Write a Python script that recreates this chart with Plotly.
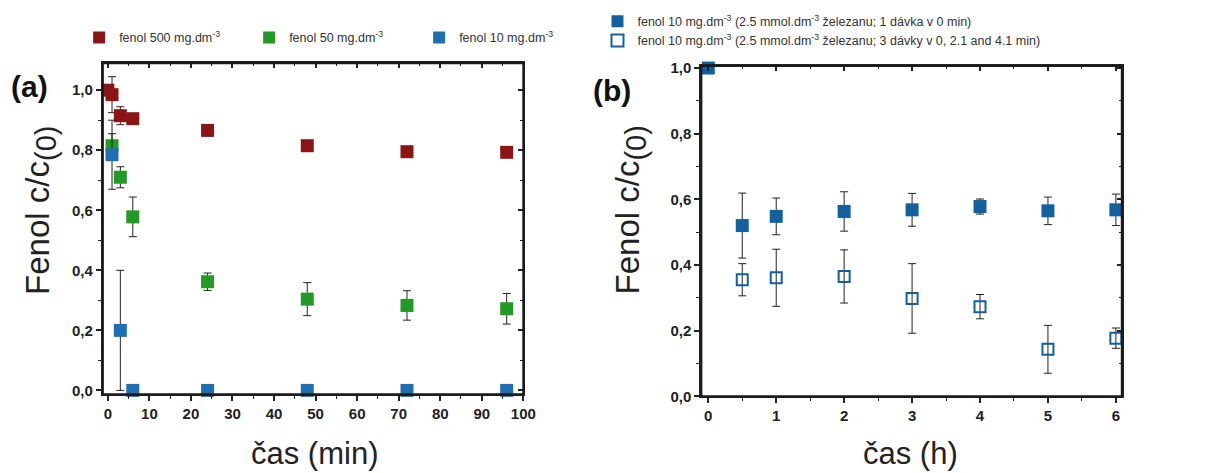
import plotly.graph_objects as go

# ---------------- data: panel (a) ----------------
t_500 = [0, 1, 3, 6, 24, 48, 72, 96]
c_500 = [1.0, 0.985, 0.915, 0.905, 0.866, 0.815, 0.795, 0.793]
e_500 = [0.0, 0.06, 0.03, 0.015, 0.01, 0.01, 0.005, 0.005]

t_50 = [1, 3, 6, 24, 48, 72, 96]
c_50 = [0.815, 0.71, 0.578, 0.362, 0.304, 0.283, 0.272]
e_50 = [0.04, 0.035, 0.066, 0.029, 0.055, 0.049, 0.051]

t_10 = [1, 3, 6, 24, 48, 72, 96]
c_10 = [0.785, 0.2, 0.0, 0.0, 0.0, 0.0, 0.0]
e_10 = [0.115, 0.2, 0.0, 0.0, 0.0, 0.0, 0.0]

# ---------------- data: panel (b) ----------------
t_b1 = [0, 0.5, 1, 2, 3, 4, 5, 6]
c_b1 = [1.0, 0.52, 0.548, 0.563, 0.568, 0.578, 0.565, 0.568]
e_b1 = [0.0, 0.099, 0.056, 0.06, 0.05, 0.023, 0.042, 0.048]

t_b3 = [0.5, 1, 2, 3, 4, 5, 6]
c_b3 = [0.355, 0.361, 0.365, 0.298, 0.273, 0.143, 0.177]
e_b3 = [0.049, 0.087, 0.081, 0.106, 0.037, 0.073, 0.031]

lbl_500 = "fenol 500 mg.dm<sup>-3</sup>"
lbl_50 = "fenol 50 mg.dm<sup>-3</sup>"
lbl_10 = "fenol 10 mg.dm<sup>-3</sup>"
lbl_b1 = "fenol 10 mg.dm<sup>-3</sup> (2.5 mmol.dm<sup>-3</sup> železanu; 1 dávka v 0 min)"
lbl_b3 = "fenol 10 mg.dm<sup>-3</sup> (2.5 mmol.dm<sup>-3</sup> železanu; 3 dávky v 0, 2.1 and 4.1 min)"

RED = "#8b1515"
GREEN = "#229a25"
BLUE = "#1f6fb4"
BLUE_B = "#13609f"
ERR = dict(type="data", thickness=1, width=4, color="#222222")
AX = "#222222"

W, H = 1207, 473
FONT = "Liberation Sans, Arial, sans-serif"

def px_x(p):
    return p / W

def px_y(p):
    return 1 - p / H

fig = go.Figure()

def add(x, y, e, name, color, xa, ya, legend, symbol="square", size=13, lw=0):
    fig.add_trace(go.Scatter(
        x=x, y=y, mode="markers", name=name, xaxis=xa, yaxis=ya, legend=legend,
        cliponaxis=False,
        marker=dict(symbol=symbol, size=size, color=color,
                    line=dict(width=lw, color=color)),
        error_y=dict(array=e, **ERR),
    ))

add(t_500, c_500, e_500, lbl_500, RED, "x", "y", "legend")
add(t_50, c_50, e_50, lbl_50, GREEN, "x", "y", "legend")
add(t_10, c_10, e_10, lbl_10, BLUE, "x", "y", "legend")
add(t_b1, c_b1, e_b1, lbl_b1, BLUE_B, "x2", "y2", "legend2")
add(t_b3, c_b3, e_b3, lbl_b3, BLUE_B, "x2", "y2", "legend2", symbol="square-open", size=11, lw=2)

# empty helper traces so that the mirrored (top / right) frame axes are drawn
for xa, ya in [("x3", "y"), ("x", "y3"), ("x4", "y2"), ("x2", "y4")]:
    fig.add_trace(go.Scatter(x=[None], y=[None], xaxis=xa, yaxis=ya, mode="markers",
                             showlegend=False, hoverinfo="skip"))

tickfont = dict(family=FONT, size=15, color="#222222")
ax_common = dict(showgrid=False, zeroline=False, showline=True, mirror=True, linecolor=AX,
                 linewidth=2, ticks="outside", ticklen=5, tickwidth=1.5,
                 tickcolor=AX, tickfont=tickfont, tickprefix="<b>", ticksuffix="</b>")

def mirror_ax(**kw):
    d = dict(showticklabels=False, showgrid=False, zeroline=False, showline=True,
             linecolor=AX, linewidth=2, ticks="inside", ticklen=5, tickwidth=1.5,
             tickcolor=AX, tickmode="linear", tick0=0)
    d.update(kw)
    return d

XA = (104, 529)
YA = (58, 400)
XB = (709, 1134)
YB = (61, 402)
dom_xa = [px_x(XA[0]), px_x(XA[1])]
dom_ya = [px_y(YA[1]), px_y(YA[0])]
dom_xb = [px_x(XB[0]), px_x(XB[1])]
dom_yb = [px_y(YB[1]), px_y(YB[0])]
rx_a = [-1.2, 100]
ry_a = [-0.013, 1.09]
rx_b = [-0.102, 6.087]
ry_b = [0, 1.006]

def minor(d, ticks="outside"):
    return dict(dtick=d, tick0=0, ticks=ticks, ticklen=3, tickwidth=1, tickcolor=AX)

fig.update_layout(
    width=W, height=H, autosize=False,
    margin=dict(l=0, r=0, t=0, b=0),
    paper_bgcolor="white", plot_bgcolor="white",
    separators=", ",
    font=dict(family=FONT, color="#222222"),
    xaxis=dict(domain=dom_xa, range=rx_a, anchor="y", tickmode="linear", tick0=0, dtick=10,
               minor=minor(5), **ax_common),
    yaxis=dict(domain=dom_ya, range=ry_a, anchor="x", tickmode="linear", tick0=0, dtick=0.2,
               tickformat=".1f", minor=minor(0.1), **ax_common),
    xaxis2=dict(domain=dom_xb, range=rx_b, anchor="y2", tickmode="linear", tick0=0, dtick=1,
                minor=minor(0.5), **ax_common),
    yaxis2=dict(domain=dom_yb, range=ry_b, anchor="x2", tickmode="linear", tick0=0, dtick=0.2,
                tickformat=".1f", minor=minor(0.1), **ax_common),
    xaxis3=mirror_ax(overlaying="x", side="top", anchor="y", range=rx_a, dtick=10,
                     minor=minor(5, "inside")),
    yaxis3=mirror_ax(overlaying="y", side="right", anchor="x", range=ry_a, dtick=0.2,
                     minor=minor(0.1, "inside")),
    xaxis4=mirror_ax(overlaying="x2", side="top", anchor="y2", range=rx_b, dtick=1,
                     minor=minor(0.5, "inside")),
    yaxis4=mirror_ax(overlaying="y2", side="right", anchor="x2", range=ry_b, dtick=0.2,
                     minor=minor(0.1, "inside")),
    legend=dict(orientation="h", x=px_x(80), y=px_y(32), xanchor="left", yanchor="middle",
                entrywidth=125, entrywidthmode="pixels", bgcolor="rgba(0,0,0,0)",
                font=dict(family=FONT, size=12.5, color="#333333"), itemsizing="constant",
                tracegroupgap=0),
    legend2=dict(orientation="v", x=px_x(604), y=px_y(25), xanchor="left", yanchor="middle",
                 bgcolor="rgba(0,0,0,0)", font=dict(family=FONT, size=12.5, color="#333333"),
                 itemsizing="constant", tracegroupgap=0),
    showlegend=True,
)

# plot frames as individual paper-referenced line shapes
shapes = []
for (x0, x1), (y0, y1) in [(XA, YA), (XB, YB)]:
    for sx0, sy0, sx1, sy1 in [(x0, y0, x1, y0), (x0, y1, x1, y1),
                               (x0, y0, x0, y1), (x1, y0, x1, y1)]:
        shapes.append(dict(type="line", xref="paper", yref="paper",
                           x0=px_x(sx0), y0=px_y(sy0), x1=px_x(sx1), y1=px_y(sy1),
                           line=dict(color="#1a1a1a", width=2), layer="above"))
fig.update_layout(shapes=shapes)

ann_font = dict(family=FONT, size=33, color="#222222")
ytitle = "Fenol c/c<sub><span style='font-size:29px'>(0)</span></sub>"
annotations = [
    dict(text="<b>(a)</b>", x=px_x(30), y=px_y(82), font=dict(family=FONT, size=30, color="#111111")),
    dict(text="<b>(b)</b>", x=px_x(619), y=px_y(86), font=dict(family=FONT, size=30, color="#111111")),
    dict(text=ytitle, x=px_x(41), y=px_y(210), textangle=-90, font=ann_font),
    dict(text=ytitle, x=px_x(637), y=px_y(210), textangle=-90, font=ann_font),
    dict(text="čas (min)", x=px_x(318), y=px_y(461), font=dict(family=FONT, size=31, color="#222222")),
    dict(text="čas (h)", x=px_x(920), y=px_y(461), font=dict(family=FONT, size=31, color="#222222")),
]
for a in annotations:
    a.update(xref="paper", yref="paper", showarrow=False, xanchor="center", yanchor="middle")
fig.update_layout(annotations=annotations)

fig.write_html("out.html")
